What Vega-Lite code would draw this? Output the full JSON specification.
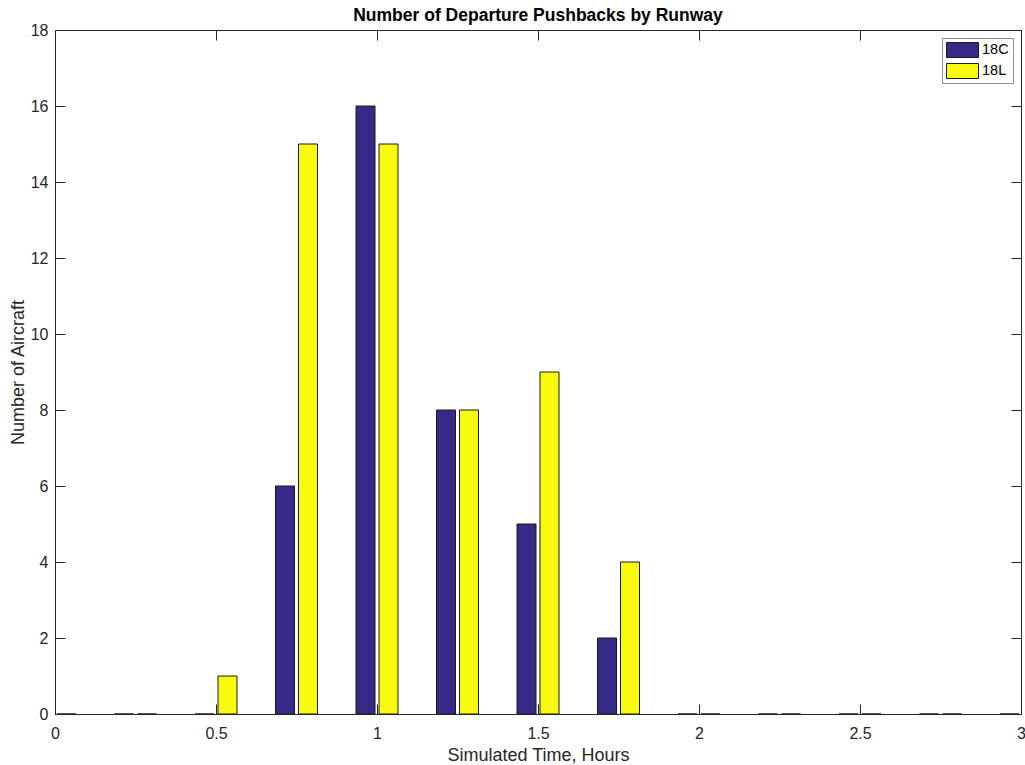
{
  "$schema": "https://vega.github.io/schema/vega-lite/v6.json",
  "width": 966,
  "height": 684,
  "autosize": "none",
  "padding": {"left": 55, "top": 30, "right": 4, "bottom": 51},
  "background": "white",
  "config": {
    "font": "Liberation Sans",
    "view": {"stroke": "#262626", "strokeWidth": 1},
    "axis": {
      "domainColor": "#262626",
      "tickColor": "#262626",
      "labelColor": "#262626",
      "titleColor": "#262626",
      "labelFont": "Liberation Sans",
      "titleFont": "Liberation Sans",
      "labelFontSize": 16,
      "titleFontSize": 18,
      "titleFontWeight": "normal",
      "grid": false,
      "tickSize": -10
    }
  },
  "title": {
    "text": "Number of Departure Pushbacks by Runway",
    "fontSize": 17.5,
    "fontWeight": "bold",
    "color": "#000000",
    "anchor": "middle",
    "frame": "group",
    "offset": -2
  },
  "data": {
    "values": [
      {"time": 0, "runway": "18C", "count": 0},
      {"time": 0, "runway": "18L", "count": 0},
      {"time": 0.25, "runway": "18C", "count": 0},
      {"time": 0.25, "runway": "18L", "count": 0},
      {"time": 0.5, "runway": "18C", "count": 0},
      {"time": 0.5, "runway": "18L", "count": 1},
      {"time": 0.75, "runway": "18C", "count": 6},
      {"time": 0.75, "runway": "18L", "count": 15},
      {"time": 1, "runway": "18C", "count": 16},
      {"time": 1, "runway": "18L", "count": 15},
      {"time": 1.25, "runway": "18C", "count": 8},
      {"time": 1.25, "runway": "18L", "count": 8},
      {"time": 1.5, "runway": "18C", "count": 5},
      {"time": 1.5, "runway": "18L", "count": 9},
      {"time": 1.75, "runway": "18C", "count": 2},
      {"time": 1.75, "runway": "18L", "count": 4},
      {"time": 2, "runway": "18C", "count": 0},
      {"time": 2, "runway": "18L", "count": 0},
      {"time": 2.25, "runway": "18C", "count": 0},
      {"time": 2.25, "runway": "18L", "count": 0},
      {"time": 2.5, "runway": "18C", "count": 0},
      {"time": 2.5, "runway": "18L", "count": 0},
      {"time": 2.75, "runway": "18C", "count": 0},
      {"time": 2.75, "runway": "18L", "count": 0},
      {"time": 3, "runway": "18C", "count": 0},
      {"time": 3, "runway": "18L", "count": 0}
    ]
  },
  "layer": [
    {
      "transform": [{"filter": "datum.runway === '18C'"}],
      "mark": {"type": "bar", "width": 19, "xOffset": -11.5, "stroke": "#1a1a1a", "strokeWidth": 1, "clip": true, "opacity": 1},
      "encoding": {
        "x": {
          "field": "time", "type": "quantitative",
          "scale": {"domain": [0, 3], "nice": false, "zero": false, "padding": 0},
          "axis": {"values": [0, 0.5, 1, 1.5, 2, 2.5, 3], "title": "Simulated Time, Hours", "labelPadding": 21, "titlePadding": 5, "format": "~g", "labelFlush": false, "labelOverlap": false}
        },
        "y": {
          "field": "count", "type": "quantitative",
          "scale": {"domain": [0, 18], "nice": false, "padding": 0},
          "axis": {"values": [0, 2, 4, 6, 8, 10, 12, 14, 16, 18], "title": "Number of Aircraft", "labelPadding": 17, "titlePadding": 3, "labelFlush": false, "labelOverlap": false}
        },
        "color": {
          "field": "runway", "type": "nominal",
          "scale": {"domain": ["18C", "18L"], "range": ["#352a87", "#f9fb0e"]},
          "legend": {
            "title": null,
            "orient": "top-right",
            "offset": 8,
            "fillColor": "white",
            "strokeColor": "#8c8c8c",
            "padding": 4,
            "labelFontSize": 14.5,
            "labelColor": "#000000",
            "labelFont": "Liberation Sans",
            "symbolType": "M-1,-0.47H1V0.47H-1Z",
            "symbolSize": 1024,
            "symbolStrokeColor": "#1a1a1a",
            "symbolStrokeWidth": 1,
            "symbolOpacity": 1,
            "clipHeight": 16,
            "rowPadding": 5,
            "labelOffset": 3
          }
        }
      }
    },
    {
      "transform": [{"filter": "datum.runway === '18L'"}],
      "mark": {"type": "bar", "width": 19, "xOffset": 11.5, "stroke": "#1a1a1a", "strokeWidth": 1, "clip": true, "opacity": 1},
      "encoding": {
        "x": {
          "field": "time", "type": "quantitative",
          "scale": {"domain": [0, 3], "nice": false, "zero": false, "padding": 0},
          "axis": {"orient": "top", "values": [0, 0.5, 1, 1.5, 2, 2.5, 3], "labels": false, "title": null}
        },
        "y": {
          "field": "count", "type": "quantitative",
          "scale": {"domain": [0, 18], "nice": false, "padding": 0},
          "axis": {"orient": "right", "values": [0, 2, 4, 6, 8, 10, 12, 14, 16, 18], "labels": false, "title": null}
        },
        "color": {"field": "runway", "type": "nominal"}
      }
    }
  ],
  "resolve": {"axis": {"x": "independent", "y": "independent"}}
}
